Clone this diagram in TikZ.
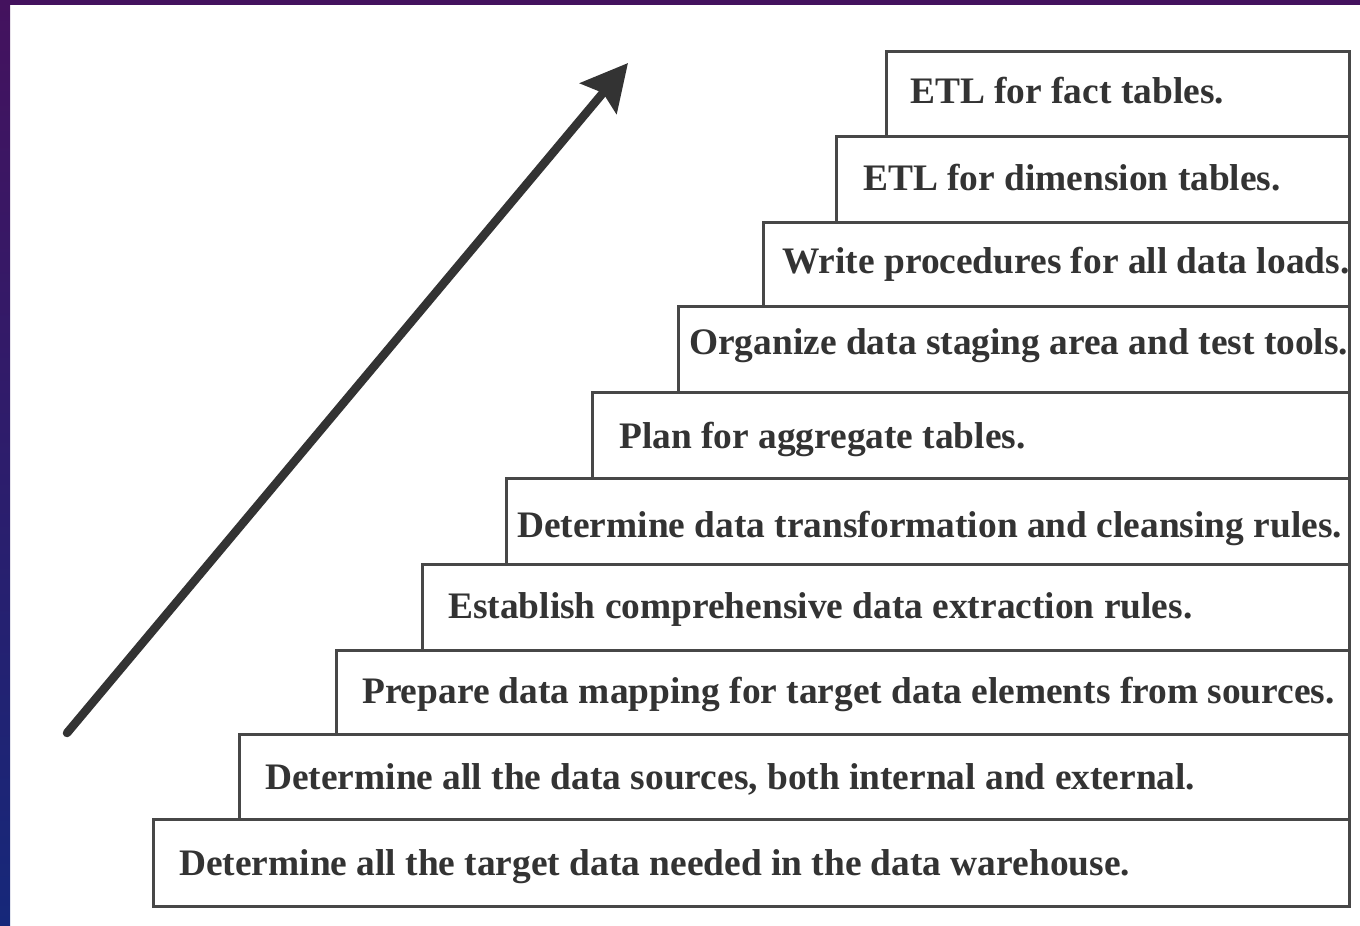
\documentclass[tikz,border=0pt]{standalone}
\usepackage{fontspec}
\setmainfont{Liberation Serif}
\usetikzlibrary{arrows.meta}
\definecolor{framepurple}{HTML}{44125E}
\definecolor{frameblue}{HTML}{16287A}
\definecolor{boxline}{HTML}{474747}
\definecolor{inkgray}{HTML}{333333}
\tikzset{
  stepbox/.style={draw=boxline, line width=2.6pt, fill=white, inner sep=0pt, anchor=north west},
  steptext/.style={anchor=base west, inner sep=0pt, text=inkgray,
    font=\bfseries\fontsize{37.4}{44}\selectfont},
  risearrow/.style={draw=inkgray, line width=8.5pt, line cap=round,
    -{Stealth[length=46pt, width=47pt, inset=7pt]}}
}
\begin{document}
\begin{tikzpicture}[x=1pt,y=-1pt]
  % page and frame
  \useasboundingbox (0,0) rectangle (1360,926);
  \fill[white] (0,0) rectangle (1360,926);
  \fill[framepurple] (0,0) rectangle (1360,5);
  \shade[top color=framepurple, bottom color=frameblue] (0,0) rectangle (10,926);

  % staircase of steps, bottom to top
  \node[stepbox, minimum width=1196pt, minimum height=87pt] (b10) at (152,818) {};
  \node[stepbox, minimum width=1110pt, minimum height=85pt] (b9) at (238,733) {};
  \node[stepbox, minimum width=1013pt, minimum height=84pt] (b8) at (335,649) {};
  \node[stepbox, minimum width=927pt, minimum height=86pt] (b7) at (421,563) {};
  \node[stepbox, minimum width=843pt, minimum height=86pt] (b6) at (505,477) {};
  \node[stepbox, minimum width=757pt, minimum height=86pt] (b5) at (591,391) {};
  \node[stepbox, minimum width=671pt, minimum height=86pt] (b4) at (677,305) {};
  \node[stepbox, minimum width=586pt, minimum height=84pt] (b3) at (762,221) {};
  \node[stepbox, minimum width=513pt, minimum height=86pt] (b2) at (835,135) {};
  \node[stepbox, minimum width=463pt, minimum height=85pt] (b1) at (885,50) {};

  % step labels
  \node[steptext] (t1) at (910,103) {ETL for fact tables.};
  \node[steptext] (t2) at (863,190) {ETL for dimension tables.};
  \node[steptext] (t3) at (782,273) {Write procedures for all data loads.};
  \node[steptext] (t4) at (689,354) {Organize data staging area and test tools.};
  \node[steptext] (t5) at (619,448) {Plan for aggregate tables.};
  \node[steptext] (t6) at (517,537) {Determine data transformation and cleansing rules.};
  \node[steptext] (t7) at (448,618) {Establish comprehensive data extraction rules.};
  \node[steptext] (t8) at (362,703) {Prepare data mapping for target data elements from sources.};
  \node[steptext] (t9) at (265,789) {Determine all the data sources, both internal and external.};
  \node[steptext] (t10) at (179,875) {Determine all the target data needed in the data warehouse.};

  % rising arrow
  \coordinate (arrowtail) at (67,733);
  \coordinate (arrowtip) at (628,63);
  \draw[risearrow] (arrowtail) -- (arrowtip);
\end{tikzpicture}
\end{document}
